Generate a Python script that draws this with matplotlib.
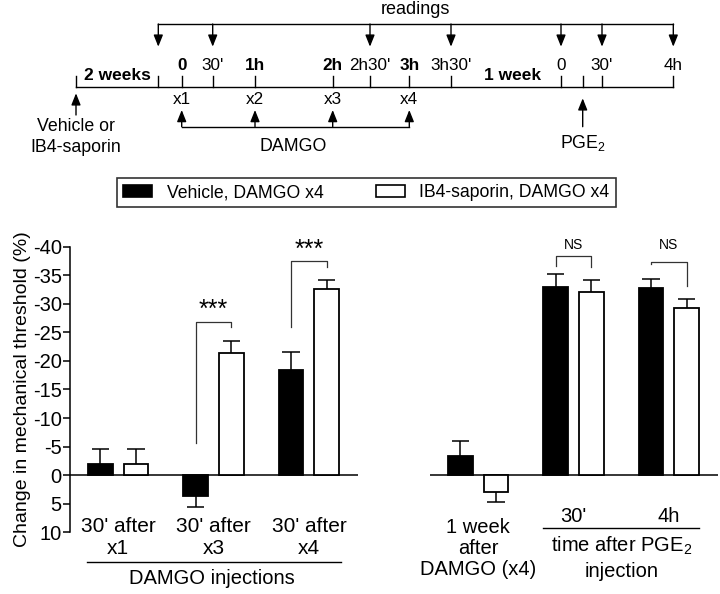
import numpy as np
import matplotlib
matplotlib.use('Agg')
import matplotlib.pyplot as plt
from matplotlib.patches import Patch

plt.rcParams['font.family'] = ['Liberation Sans', 'DejaVu Sans']
plt.rcParams['mathtext.fontset'] = 'custom'
plt.rcParams['mathtext.rm'] = 'Liberation Sans'
plt.rcParams['mathtext.it'] = 'Liberation Sans:italic'
plt.rcParams['axes.unicode_minus'] = False

# data (change in mechanical threshold, %; negative = increase in threshold drawn upward)
left_labels = ["30' after\nx1", "30' after\nx3", "30' after\nx4"]
left_vehicle = [-2.0, 3.6, -18.5]
left_vehicle_err = [2.6, 2.0, 3.0]
left_ib4 = [-2.0, -21.4, -32.6]
left_ib4_err = [2.6, 2.1, 1.6]

right_labels = ["1 week\nafter\nDAMGO (x4)", "30'", "4h"]
right_vehicle = [-3.3, -32.9, -32.7]
right_vehicle_err = [2.7, 2.3, 1.7]
right_ib4 = [2.9, -32.0, -29.2]
right_ib4_err = [1.8, 2.2, 1.6]

yticks = list(range(-40, 11, 5))

# timeline schematic (pixel layout of the protocol)
time_labels = ['0', "30'", '1h', '2h', "2h30'", '3h', "3h30'", '0', "30'", '4h']
time_pos = [181.7, 212.7, 255, 332.7, 370, 409.3, 451, 561, 602, 673.3]
time_bold = [True, False, True, True, False, True, False, False, False, False]
readings_pos = [158.3, 212.7, 370, 451, 561, 602, 673.3]
inj_labels = ['x1', 'x2', 'x3', 'x4']
inj_pos = [181.7, 255, 332.7, 409.3]
extra_ticks = [76, 158.3, 582.7]

W, H = 720, 594
fig = plt.figure(figsize=(7.2, 5.94), dpi=100)

# ---- timeline ----
tl = fig.add_axes([0, 0, 1, 1])
tl.set_xlim(0, W)
tl.set_ylim(H, 0)
tl.axis('off')
lw = 1.0
arrow = dict(arrowstyle='-|>,head_length=0.7,head_width=0.28', lw=lw, color='k',
             shrinkA=0, shrinkB=0)

line_y = 87.3
tl.plot([76, time_pos[-1]], [line_y, line_y], color='k', lw=lw)
for x in sorted(set(time_pos + extra_ticks)):
    tl.plot([x, x], [line_y - 11, line_y], color='k', lw=lw)
for lab, x, b in zip(time_labels, time_pos, time_bold):
    tl.text(x, 65, lab, ha='center', va='center', fontsize=12.3,
            fontweight='bold' if b else 'normal')
tl.text(117, 76, '2 weeks', ha='center', va='center', fontsize=12.5, fontweight='bold')
tl.text(513, 76, '1 week', ha='center', va='center', fontsize=12.5, fontweight='bold')

# readings
tl.plot([readings_pos[0], readings_pos[-1]], [24, 24], color='k', lw=lw)
for x in readings_pos:
    tl.annotate('', xy=(x, 46.7), xytext=(x, 24), arrowprops=arrow)
tl.text(415, 9.5, 'readings', ha='center', va='center', fontsize=13)

# DAMGO injections
tl.plot([inj_pos[0], inj_pos[-1]], [126.7, 126.7], color='k', lw=lw)
for lab, x in zip(inj_labels, inj_pos):
    tl.text(x, 99.3, lab, ha='center', va='center', fontsize=12.3)
    tl.annotate('', xy=(x, 110), xytext=(x, 126.7), arrowprops=arrow)
tl.text(293, 146.7, 'DAMGO', ha='center', va='center', fontsize=12.8)

# vehicle / IB4-saporin and PGE2
tl.annotate('', xy=(76, 93.3), xytext=(76, 115), arrowprops=arrow)
tl.text(76, 126.7, 'Vehicle or', ha='center', va='center', fontsize=12.8)
tl.text(76, 147.3, 'IB4-saporin', ha='center', va='center', fontsize=12.8)
tl.annotate('', xy=(582.7, 98.3), xytext=(582.7, 126.7), arrowprops=arrow)
tl.text(582.7, 143, 'PGE$_2$', ha='center', va='center', fontsize=12.8)

# ---- legend ----
handles = [Patch(facecolor='black', edgecolor='black', lw=1.2),
           Patch(facecolor='white', edgecolor='black', lw=1.2)]
leg = fig.legend(handles, ['Vehicle, DAMGO x4', 'IB4-saporin, DAMGO x4'],
                 loc='center', bbox_to_anchor=(366.5 / W, 1 - 192.5 / H), ncol=2,
                 fontsize=12.7, frameon=True, fancybox=False, handlelength=1.65,
                 handleheight=0.72, handletextpad=0.8, columnspacing=3.0,
                 borderpad=0.35, borderaxespad=0)
leg.get_frame().set_edgecolor('black')
leg.get_frame().set_linewidth(1.2)

# ---- bar panels ----
ax_bottom = 1 - 532.3 / H
ax_height = (532.3 - 246.7) / H
ax1 = fig.add_axes([70 / W, ax_bottom, 288 / W, ax_height])
ax2 = fig.add_axes([430 / W, ax_bottom, 288 / W, ax_height])

x = np.arange(3)
off = 0.187
bw = 0.26
cap = 0.09


def draw_panel(ax, veh, veh_err, ib4, ib4_err):
    ax.set_xlim(-0.505, 2.515)
    ax.set_ylim(10, -40)
    ax.axhline(0, color='k', lw=1.1, zorder=1)
    for xs, vals, errs, fc in [(x - off, veh, veh_err, 'black'),
                               (x + off, ib4, ib4_err, 'white')]:
        vals = np.array(vals)
        errs = np.array(errs)
        ends = vals + np.sign(vals) * errs
        ax.vlines(xs, vals, ends, color='k', lw=1.1, zorder=2)
        ax.hlines(ends, xs - cap, xs + cap, color='k', lw=1.1, zorder=2)
        ax.bar(xs, vals, width=bw, color=fc, edgecolor='black', lw=1.3, zorder=3)
    for s in ['top', 'right', 'bottom']:
        ax.spines[s].set_visible(False)
    ax.set_xticks([])


def bracket(ax, g, y_left, y_top, y_right, label, fs, ty):
    xl, xr = g - off, g + off
    ax.plot([xl, xl, xr, xr], [y_left, y_top, y_top, y_right], color='#333333',
            lw=0.9, clip_on=False)
    ax.text(g, ty, label, ha='center', va='center', fontsize=fs, clip_on=False)


draw_panel(ax1, left_vehicle, left_vehicle_err, left_ib4, left_ib4_err)
ax1.spines['left'].set_linewidth(1.1)
ax1.spines['left'].set_bounds(-40, 10)
ax1.set_yticks(yticks)
ax1.tick_params(axis='y', length=5, width=1.1, labelsize=14.5, pad=1)
ax1.set_ylabel('Change in mechanical threshold (%)', fontsize=14, labelpad=1)

draw_panel(ax2, right_vehicle, right_vehicle_err, right_ib4, right_ib4_err)
ax2.spines['left'].set_visible(False)
ax2.set_yticks([])

bracket(ax1, 1, -5.7, -26.9, -25.9, '***', 18, -28.9)
bracket(ax1, 2, -25.9, -37.5, -36.4, '***', 18, -39.4)
bracket(ax2, 1, -36.7, -38.4, -36.4, 'NS', 10, -40.3)
bracket(ax2, 2, -37.0, -37.4, -33.2, 'NS', 10, -40.3)

# category labels
for g, lab in zip(x, left_labels):
    ax1.text(g, 10.96, lab, ha='center', va='center', fontsize=15, linespacing=1.2,
             clip_on=False)
ax1.plot([-0.328, 2.338], [15.26, 15.26], color='k', lw=1.0, clip_on=False)
ax1.text(0.98, 18.1, 'DAMGO injections', ha='center', va='center', fontsize=14.5,
         clip_on=False)

ax2.text(0, 12.8, right_labels[0], ha='center', va='center', fontsize=14.5,
         linespacing=1.15, clip_on=False)
for g in [1, 2]:
    ax2.text(g, 7.2, right_labels[g], ha='center', va='center', fontsize=14.5,
             clip_on=False)
ax2.plot([0.678, 2.32], [9.3, 9.3], color='k', lw=1.0, clip_on=False)
ax2.text(1.505, 12.3, 'time after PGE$_2$', ha='center', va='center', fontsize=14.5,
         clip_on=False)
ax2.text(1.505, 16.8, 'injection', ha='center', va='center', fontsize=14.5,
         clip_on=False)

fig.savefig('out.png', dpi=100)
